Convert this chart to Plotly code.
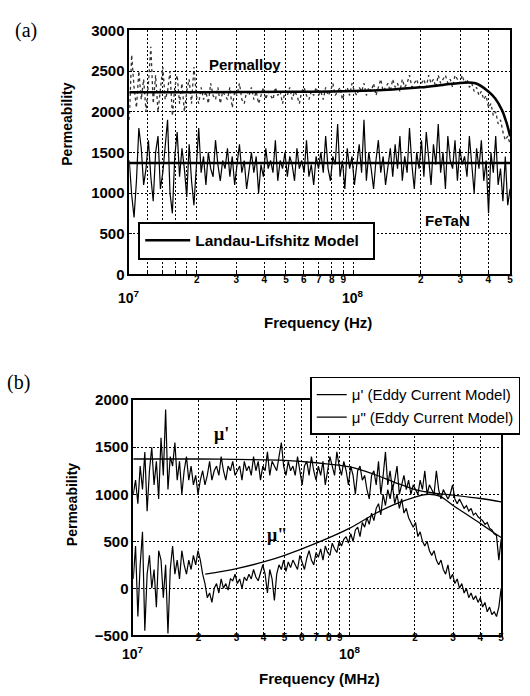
import numpy as np
import plotly.graph_objects as go

W, H = 530, 696


def px(x):
    return x / W


def py(y):
    return 1 - y / H


FONT = "Liberation Sans"
SERIF = "Liberation Serif"

# ---------------- Panel (a) data ----------------
permalloy_measured = [
    1900, 2700, 2300, 2050, 2500, 2150, 2400, 2000, 2350, 2800, 2100, 2450, 2000, 2300, 2550, 2150, 2250, 2500, 1950, 2300,
    2450, 2100, 2350, 2000, 2250, 2400, 2100, 2550, 2200, 2100, 2300, 2150, 2250, 2100, 2350, 2200, 2150, 2300, 2100, 2250,
    2200, 2150, 2300, 2050, 2250, 2200, 2350, 2150, 2100, 2250, 2200, 2300, 2150, 2250, 2100, 2200, 2300, 2150, 2250, 2200,
    2150, 2300, 2200, 2250, 2100, 2250, 2200, 2300, 2150, 2250, 2200, 2100, 2250, 2300, 2200, 2150, 2250, 2200, 2300, 2200,
    2250, 2150, 2300, 2200, 2250, 2350, 2200, 2250, 2300, 2150, 2250, 2300, 2200, 2350, 2250, 2200, 2300, 2250, 2350, 2200,
    2300, 2250, 2350, 2200, 2300, 2400, 2250, 2300, 2350, 2250, 2400, 2300, 2350, 2250, 2400, 2300, 2350, 2450, 2300, 2350,
    2400, 2300, 2350, 2400, 2300, 2450, 2350, 2400, 2300, 2450, 2350, 2400, 2450, 2350, 2400, 2300, 2450, 2400, 2350, 2450,
    2350, 2400, 2300, 2350, 2250, 2300, 2200, 2250, 2150, 2200, 2050, 2100, 1950, 2000, 1850, 1900, 1750, 1650, 1700, 1600,
]

fetan_measured = [
    1400, 980, 700, 1150, 1800, 1550, 1100, 1300, 1650, 1200, 900, 1500, 1700, 1050, 1250, 1600, 1900, 1000, 750, 1450,
    1750, 1200, 1550, 1300, 950, 1600, 1150, 850, 1350, 1800, 1250, 1450, 1100, 1500, 1300, 1200, 1650, 1350, 1150, 1400,
    1300, 1550, 1200, 1450, 1100, 1350, 1600, 1250, 1400, 1050, 1300, 1500, 1250, 1450, 1000, 1350, 1200, 1550, 1300, 1400,
    1250, 1650, 1150, 1400, 1300, 1500, 1200, 1450, 1350, 1150, 1550, 1300, 1400, 1250, 1650, 1200, 1350, 1100, 1450, 1300,
    1500, 1250, 1700, 1300, 1150, 1450, 1350, 1850, 1200, 1400, 1050, 1550, 1300, 1450, 1100, 1350, 1600, 1250, 1900, 1150,
    1500, 1300, 1050, 1400, 1650, 1250, 1450, 1100, 1350, 1550, 1200, 1600, 1300, 1700, 1150, 1450, 1250, 1800, 1350, 1050,
    1500, 1300, 1650, 1200, 1750, 1400, 1100, 1600, 1350, 1850, 1250, 1500, 1050, 1700, 1400, 1300, 1650, 1150, 1550, 1350,
    1450, 1200, 1700, 1350, 1000, 1550, 1300, 1650, 1150, 1400, 750, 1500, 1250, 1700, 1100, 1300, 900, 1450, 850, 1050,
]

ll_permalloy_freq = [1e7, 2e7, 5e7, 1e8, 1.5e8, 2e8, 2.5e8, 3e8, 3.5e8, 4e8, 4.3e8, 4.6e8, 4.8e8, 5e8]
ll_permalloy_vals = [2240, 2240, 2245, 2255, 2275, 2300, 2330, 2355, 2350, 2250, 2160, 2020, 1880, 1700]
ll_fetan_freq = [1e7, 5e8]
ll_fetan_vals = [1370, 1370]

# ---------------- Panel (b) data ----------------
mu_prime_measured = [
    1000, 1150, 900, 1300, 1050, 1450, 820, 1250, 1500, 1100, 1350, 950, 1600, 1200, 1900, 1050, 1400, 1300, 1550, 1150,
    1350, 1000, 1250, 1400, 1150, 1300, 1100, 1200, 1000, 1150, 1250, 1100, 1200, 1350, 1150, 1250, 1300, 1200, 1400, 1250,
    1150, 1300, 1250, 1350, 1200, 1250, 1300, 1150, 1350, 1250, 1300, 1200, 1400, 1250, 1350, 1150, 1300, 1250, 1450, 1200,
    1350, 1300, 1250, 1400, 1550, 1300, 1200, 1350, 1250, 1300, 1200, 1400, 1250, 1100, 1300, 1350, 1200, 1400, 1250, 1150,
    1300, 1200, 1350, 1100, 1250, 1400, 1300, 1200, 1450, 1300, 1200, 1350, 1250, 1100, 1300, 1200, 1000, 1250, 1300, 1150,
    1200, 1050, 950, 1200, 1250, 1100, 1350, 1000, 1200, 1450, 1100, 1250, 1050, 1150, 1300, 1000, 1100, 1200, 1050, 1150,
    1000, 1100, 1050, 1000, 1150, 1050, 1250, 1000, 1100, 1050, 1000, 1250, 1050, 950, 1050, 1000, 950, 1000, 1100, 950,
    900, 950, 900, 850, 880, 820, 850, 780, 800, 760, 740, 720, 680, 700, 640, 620, 580, 560, 300, 520,
]

mu_dprime_measured = [
    100, 450, -300, 250, 600, -450, 150, 350, 0, 200, -200, 400, 300, -100, 250, -480, 200, 450, 150, 300,
    100, 400, 250, 150, 300, 200, 350, 250, 400, 300, 150, 50, -100, -50, -150, 0, 50, -50, 100, 0,
    50, -20, 100, 80, 150, 50, 100, 0, 120, 80, 150, 100, 200, 120, 80, 180, 250, 150, -50, 200,
    100, -130, 150, 250, 200, 300, 180, 280, 220, 300, 250, 200, 350, 280, 200, 320, 400, 300, 250, 380,
    330, 420, 300, 450, 380, 350, 480, 420, 380, 500, 450, 520, 550, 480, 580, 500, 620, 650, 550, 700,
    650, 750, 680, 800, 720, 850, 900, 780, 1000, 880, 1050, 950, 1100, 900, 1000, 850, 950, 800, 850, 750,
    700, 650, 700, 550, 600, 500, 450, 500, 400, 350, 400, 300, 250, 300, 200, 150, 250, 100, 150, 50,
    100, 0, 50, -50, 0, -100, -50, -120, -80, -150, -100, -200, -150, -250, -200, -280, -250, -300, -200, 0,
]

eddy_mu_prime_freq = [1e7, 2e7, 3e7, 5e7, 7e7, 1e8, 1.3e8, 1.6e8, 2e8, 2.5e8, 3e8, 4e8, 5e8]
eddy_mu_prime_vals = [1375, 1375, 1370, 1360, 1335, 1290, 1210, 1130, 1050, 1010, 990, 955, 920]
eddy_mu_dprime_freq = [2.15e7, 3e7, 4e7, 5e7, 7e7, 1e8, 1.3e8, 1.6e8, 2e8, 2.3e8, 2.6e8, 3e8, 3.5e8, 4e8, 4.5e8, 5e8]
eddy_mu_dprime_vals = [150, 210, 280, 350, 480, 640, 790, 890, 970, 1000, 980, 880, 780, 690, 610, 540]

# measurement sweep grid (10 MHz .. 500 MHz)
freq_meas = np.geomspace(1e7, 5e8, len(fetan_measured)).tolist()

# ---------------- tick definitions ----------------
label_vals = [2e7, 3e7, 4e7, 5e7, 6e7, 7e7, 8e7, 9e7, 2e8, 3e8, 4e8, 5e8]
label_text = ["2", "3", "4", "5", "6", "7", "8", "9", "2", "3", "4", "5"]
extra_grid_a = [1.2e7, 1.4e7, 1.6e7, 1.8e7, 1e8]
extra_grid_b = [1e8]
decade_vals = [1e7, 1e8]
decade_text = ["10<sup>7</sup>", "10<sup>8</sup>"]
yticks_a = [0, 500, 1000, 1500, 2000, 2500, 3000]
yticks_b = [-500, 0, 500, 1000, 1500, 2000]

fig = go.Figure()

# Panel (a)
fig.add_trace(go.Scatter(x=freq_meas, y=permalloy_measured, mode="lines",
                         line=dict(color="#333333", width=1.3, dash="dot"),
                         showlegend=False, xaxis="x", yaxis="y"))
fig.add_trace(go.Scatter(x=freq_meas, y=fetan_measured, mode="lines",
                         line=dict(color="black", width=1.2),
                         showlegend=False, xaxis="x", yaxis="y"))
fig.add_trace(go.Scatter(x=ll_permalloy_freq, y=ll_permalloy_vals, mode="lines",
                         line=dict(color="black", width=2.5, shape="spline"),
                         name="Landau-Lifshitz Model\u00a0\u00a0", legend="legend",
                         showlegend=True, xaxis="x", yaxis="y"))
fig.add_trace(go.Scatter(x=ll_fetan_freq, y=ll_fetan_vals, mode="lines",
                         line=dict(color="black", width=2.5),
                         showlegend=False, xaxis="x", yaxis="y"))

# Panel (b)
fig.add_trace(go.Scatter(x=freq_meas, y=mu_prime_measured, mode="lines",
                         line=dict(color="black", width=1.2),
                         showlegend=False, xaxis="x2", yaxis="y2"))
fig.add_trace(go.Scatter(x=freq_meas, y=mu_dprime_measured, mode="lines",
                         line=dict(color="black", width=1.2),
                         showlegend=False, xaxis="x2", yaxis="y2"))
fig.add_trace(go.Scatter(x=eddy_mu_prime_freq, y=eddy_mu_prime_vals, mode="lines",
                         line=dict(color="black", width=1.3, shape="spline"),
                         name="\u03bc' (Eddy Current Model)", legend="legend2",
                         showlegend=True, xaxis="x2", yaxis="y2"))
fig.add_trace(go.Scatter(x=eddy_mu_dprime_freq, y=eddy_mu_dprime_vals, mode="lines",
                         line=dict(color="black", width=1.3, shape="spline"),
                         name="\u03bc\" (Eddy Current Model)", legend="legend2",
                         showlegend=True, xaxis="x2", yaxis="y2"))

xr = [7, np.log10(5e8)]
GRID = dict(showgrid=True, gridcolor="black", gridwidth=1, griddash="2px,2px")


def xaxis_cfg(domain, anchor, extra, standoff):
    return dict(type="log", range=xr, domain=domain, anchor=anchor,
                showline=True, mirror=True, linecolor="black", linewidth=1.5,
                ticks="inside", ticklen=3, tickcolor="black", zeroline=False,
                tickmode="array", tickvals=label_vals, ticktext=label_text,
                tickfont=dict(family=FONT, size=10, color="black", weight="bold"),
                ticklabelstandoff=standoff,
                minor=dict(tickmode="array", tickvals=extra, ticks="inside", ticklen=3,
                           tickcolor="black", **GRID),
                **GRID)


def yaxis_cfg(domain, anchor, rng, vals):
    return dict(domain=domain, anchor=anchor, range=rng,
                showline=True, mirror=True, linecolor="black", linewidth=1.5,
                ticks="inside", ticklen=3, tickcolor="black", zeroline=False,
                tickmode="array", tickvals=vals,
                tickfont=dict(family=FONT, size=15, color="black", weight="bold"),
                **GRID)


fig.update_layout(
    width=W, height=H, autosize=False,
    margin=dict(l=0, r=0, t=0, b=0),
    paper_bgcolor="white", plot_bgcolor="white",
    xaxis=xaxis_cfg([px(130), px(513)], "y", extra_grid_a, -5),
    yaxis=yaxis_cfg([py(272), py(22)], "x", [-1, 3000], yticks_a),
    xaxis2=xaxis_cfg([px(134), px(504)], "y2", extra_grid_b, -8),
    yaxis2=yaxis_cfg([py(642), py(401)], "x2", [-500, 2000], yticks_b),
    legend=dict(x=px(139), y=py(218), xanchor="left", yanchor="top",
                bgcolor="white", bordercolor="black", borderwidth=2,
                itemwidth=45,
                font=dict(family=FONT, size=15.5, color="black", weight="bold")),
    legend2=dict(x=px(312), y=py(377), xanchor="left", yanchor="top",
                 bgcolor="white", bordercolor="black", borderwidth=1.5,
                 tracegroupgap=0,
                 font=dict(family=FONT, size=15, color="black")),
    showlegend=True,
)

ann = []


def add_text(text, x, y, size=15, family=FONT, angle=0, weight="bold", xanchor="center",
             xref="paper"):
    ann.append(dict(text=text, x=x if xref != "paper" else px(x), y=py(y),
                    xref=xref, yref="paper",
                    showarrow=False, textangle=angle, xanchor=xanchor, yanchor="middle",
                    font=dict(family=family, size=size, color="black", weight=weight)))


# decade labels placed on the log axes (annotation x is log10 of the value)
for v, t in zip(decade_vals, decade_text):
    add_text(t, float(np.log10(v)), 295, size=14, xref="x")
    add_text(t, float(np.log10(v)), 660, size=14, xref="x2")

add_text("(a)", 26, 22, size=20, family=SERIF, weight="normal")
add_text("(b)", 19, 383, size=20, family=SERIF, weight="normal")
add_text("Permalloy", 208, 57, size=15, xanchor="left")
add_text("FeTaN", 425, 217, size=15, xanchor="left")
add_text("\u03bc'", 213, 436, size=18, family=SERIF, xanchor="left")
add_text("\u03bc\"", 267, 539, size=18, family=SERIF, xanchor="left")
add_text("Permeability", 67, 118, size=14, angle=-90)
add_text("Permeability", 72, 508, size=14, angle=-90)
add_text("Frequency (Hz)", 320, 321, size=15)
add_text("Frequency (MHz)", 321, 686, size=15)
fig.update_layout(annotations=ann)

fig.write_html(
    "out.html",
    config={"displayModeBar": False},
    post_script="document.body.style.margin='0px';document.body.style.padding='0px';"
                "document.documentElement.style.overflow='hidden';",
)
